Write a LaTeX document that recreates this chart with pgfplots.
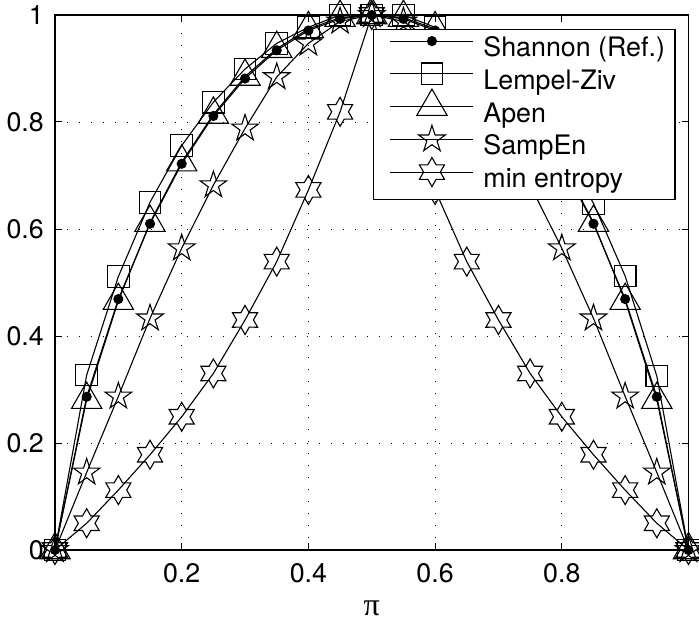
\documentclass[border=0pt]{standalone}
\usepackage{fontspec}
\setmainfont{TeX Gyre Heros}
\newfontfamily\pifont{Liberation Serif}
\usepackage{pgfplots}
\pgfplotsset{compat=1.18}
\usetikzlibrary{calc,plotmarks}

\pgfdeclareplotmark{pentag}{%
  \pgfpathmoveto{\pgfpointpolar{90}{\pgfplotmarksize}}%
  \pgfpathlineto{\pgfpointpolar{126}{0.382\pgfplotmarksize}}%
  \pgfpathlineto{\pgfpointpolar{162}{\pgfplotmarksize}}%
  \pgfpathlineto{\pgfpointpolar{198}{0.382\pgfplotmarksize}}%
  \pgfpathlineto{\pgfpointpolar{234}{\pgfplotmarksize}}%
  \pgfpathlineto{\pgfpointpolar{270}{0.382\pgfplotmarksize}}%
  \pgfpathlineto{\pgfpointpolar{306}{\pgfplotmarksize}}%
  \pgfpathlineto{\pgfpointpolar{342}{0.382\pgfplotmarksize}}%
  \pgfpathlineto{\pgfpointpolar{18}{\pgfplotmarksize}}%
  \pgfpathlineto{\pgfpointpolar{54}{0.382\pgfplotmarksize}}%
  \pgfpathclose
  \pgfusepathqstroke
}
\pgfdeclareplotmark{hexag}{%
  \pgfpathmoveto{\pgfpointpolar{90}{\pgfplotmarksize}}%
  \pgfpathlineto{\pgfpointpolar{120}{0.577\pgfplotmarksize}}%
  \pgfpathlineto{\pgfpointpolar{150}{\pgfplotmarksize}}%
  \pgfpathlineto{\pgfpointpolar{180}{0.577\pgfplotmarksize}}%
  \pgfpathlineto{\pgfpointpolar{210}{\pgfplotmarksize}}%
  \pgfpathlineto{\pgfpointpolar{240}{0.577\pgfplotmarksize}}%
  \pgfpathlineto{\pgfpointpolar{270}{\pgfplotmarksize}}%
  \pgfpathlineto{\pgfpointpolar{300}{0.577\pgfplotmarksize}}%
  \pgfpathlineto{\pgfpointpolar{330}{\pgfplotmarksize}}%
  \pgfpathlineto{\pgfpointpolar{0}{0.577\pgfplotmarksize}}%
  \pgfpathlineto{\pgfpointpolar{30}{\pgfplotmarksize}}%
  \pgfpathlineto{\pgfpointpolar{60}{0.577\pgfplotmarksize}}%
  \pgfpathclose
  \pgfusepathqstroke
}
\pgfdeclareplotmark{tri}{%
  \pgfpathmoveto{\pgfqpoint{0pt}{\pgfplotmarksize}}%
  \pgfpathlineto{\pgfpoint{-0.866\pgfplotmarksize}{-0.5\pgfplotmarksize}}%
  \pgfpathlineto{\pgfpoint{0.866\pgfplotmarksize}{-0.5\pgfplotmarksize}}%
  \pgfpathclose
  \pgfusepathqstroke
}
\pgfdeclareplotmark{sq}{%
  \pgfpathrectangle{\pgfpoint{-\pgfplotmarksize}{-\pgfplotmarksize}}{\pgfpoint{2\pgfplotmarksize}{2\pgfplotmarksize}}%
  \pgfusepathqstroke
}

\pgfplotstableread{
x     shannon lz    apen  sampen minent
0.00  0.0000  0.000 0.000 0.000  0.000
0.05  0.2864  0.327 0.281 0.145  0.050
0.10  0.4690  0.511 0.466 0.287  0.112
0.15  0.6098  0.650 0.612 0.433  0.178
0.20  0.7219  0.756 0.725 0.564  0.249
0.25  0.8113  0.837 0.814 0.682  0.330
0.30  0.8813  0.899 0.885 0.788  0.430
0.35  0.9341  0.947 0.937 0.884  0.539
0.40  0.9710  0.977 0.974 0.947  0.673
0.45  0.9928  1.000 0.995 0.988  0.819
0.50  1.0000  1.000 1.000 1.000  1.000
0.55  0.9928  1.000 0.995 0.988  0.819
0.60  0.9710  0.977 0.974 0.947  0.673
0.65  0.9341  0.947 0.937 0.884  0.539
0.70  0.8813  0.899 0.885 0.788  0.430
0.75  0.8113  0.837 0.814 0.682  0.330
0.80  0.7219  0.756 0.725 0.564  0.249
0.85  0.6098  0.648 0.612 0.433  0.178
0.90  0.4690  0.512 0.466 0.287  0.112
0.95  0.2864  0.325 0.281 0.145  0.050
1.00  0.0000  0.000 0.000 0.000  0.000
}\datatable

\begin{document}
\begin{tikzpicture}
\begin{axis}[
  name=ax,
  scale only axis,
  width=633.5pt, height=535pt,
  xmin=0, xmax=1, ymin=0, ymax=1,
  xtick={0.2,0.4,0.6,0.8},
  ytick={0,0.2,0.4,0.6,0.8,1},
  grid=major,
  major grid style={black, line width=0.9pt, dash pattern=on 1.2pt off 10.8pt},
  tick align=inside,
  major tick length=7pt,
  every tick/.style={black, line width=1pt},
  axis line style={line width=1.6pt},
  clip=false,
  /pgf/number format/assume math mode=true,
  tick label style={font=\fontsize{26.8}{32}\selectfont, inner sep=0pt},
  yticklabel style={xshift=-11pt},
  xticklabel style={yshift=-13pt},
  xlabel={\pifont π},
  xlabel style={font=\fontsize{32}{38}\selectfont, inner sep=0pt, anchor=base, at={(axis description cs:0.5,0)}, yshift=-65pt},
  legend cell align=left,
  legend style={at={(0.9795,0.9738)}, anchor=north east,
    draw=black, line width=1.2pt, fill=white,
    font=\fontsize{26.8}{32}\selectfont,
    inner xsep=10pt, inner ysep=3.1pt, row sep=0pt,
    nodes={inner sep=0pt, text height=23.9pt, text depth=8.85pt},
    /tikz/every odd column/.append style={column sep=10pt}},
  legend image code/.code={%
    \pgfpathrectangle{\pgfqpoint{0pt}{-2pt}}{\pgfqpoint{90pt}{4pt}}%
    \pgfusepath{use as bounding box}%
    \begin{pgfinterruptboundingbox}
    \draw[mark repeat=2, mark phase=2, yshift=8pt] plot coordinates {(7pt,0pt) (48.5pt,0pt) (90pt,0pt)};
    \end{pgfinterruptboundingbox}},
  every axis plot/.append style={black, line width=1.1pt, mark options={solid, line width=1.1pt}},
]
\addplot[mark=*, mark size=4.5pt] table[x=x, y=shannon] {\datatable};
\addlegendentry{Shannon (Ref.)}
\addplot[mark=sq, mark size=10.8pt] table[x=x, y=lz] {\datatable};
\addlegendentry{Lempel-Ziv}
\addplot[mark=tri, mark size=17.5pt] table[x=x, y=apen] {\datatable};
\addlegendentry{Apen}
\addplot[mark=pentag, mark size=14pt] table[x=x, y=sampen] {\datatable};
\addlegendentry{SampEn}
\addplot[mark=hexag, mark size=14.5pt] table[x=x, y=minent] {\datatable};
\addlegendentry{min entropy}
\end{axis}
\pgfresetboundingbox
\path ($(ax.south west)+(-55pt,-72pt)$) rectangle ($(ax.north east)+(10.5pt,15pt)$);
\end{tikzpicture}
\end{document}
